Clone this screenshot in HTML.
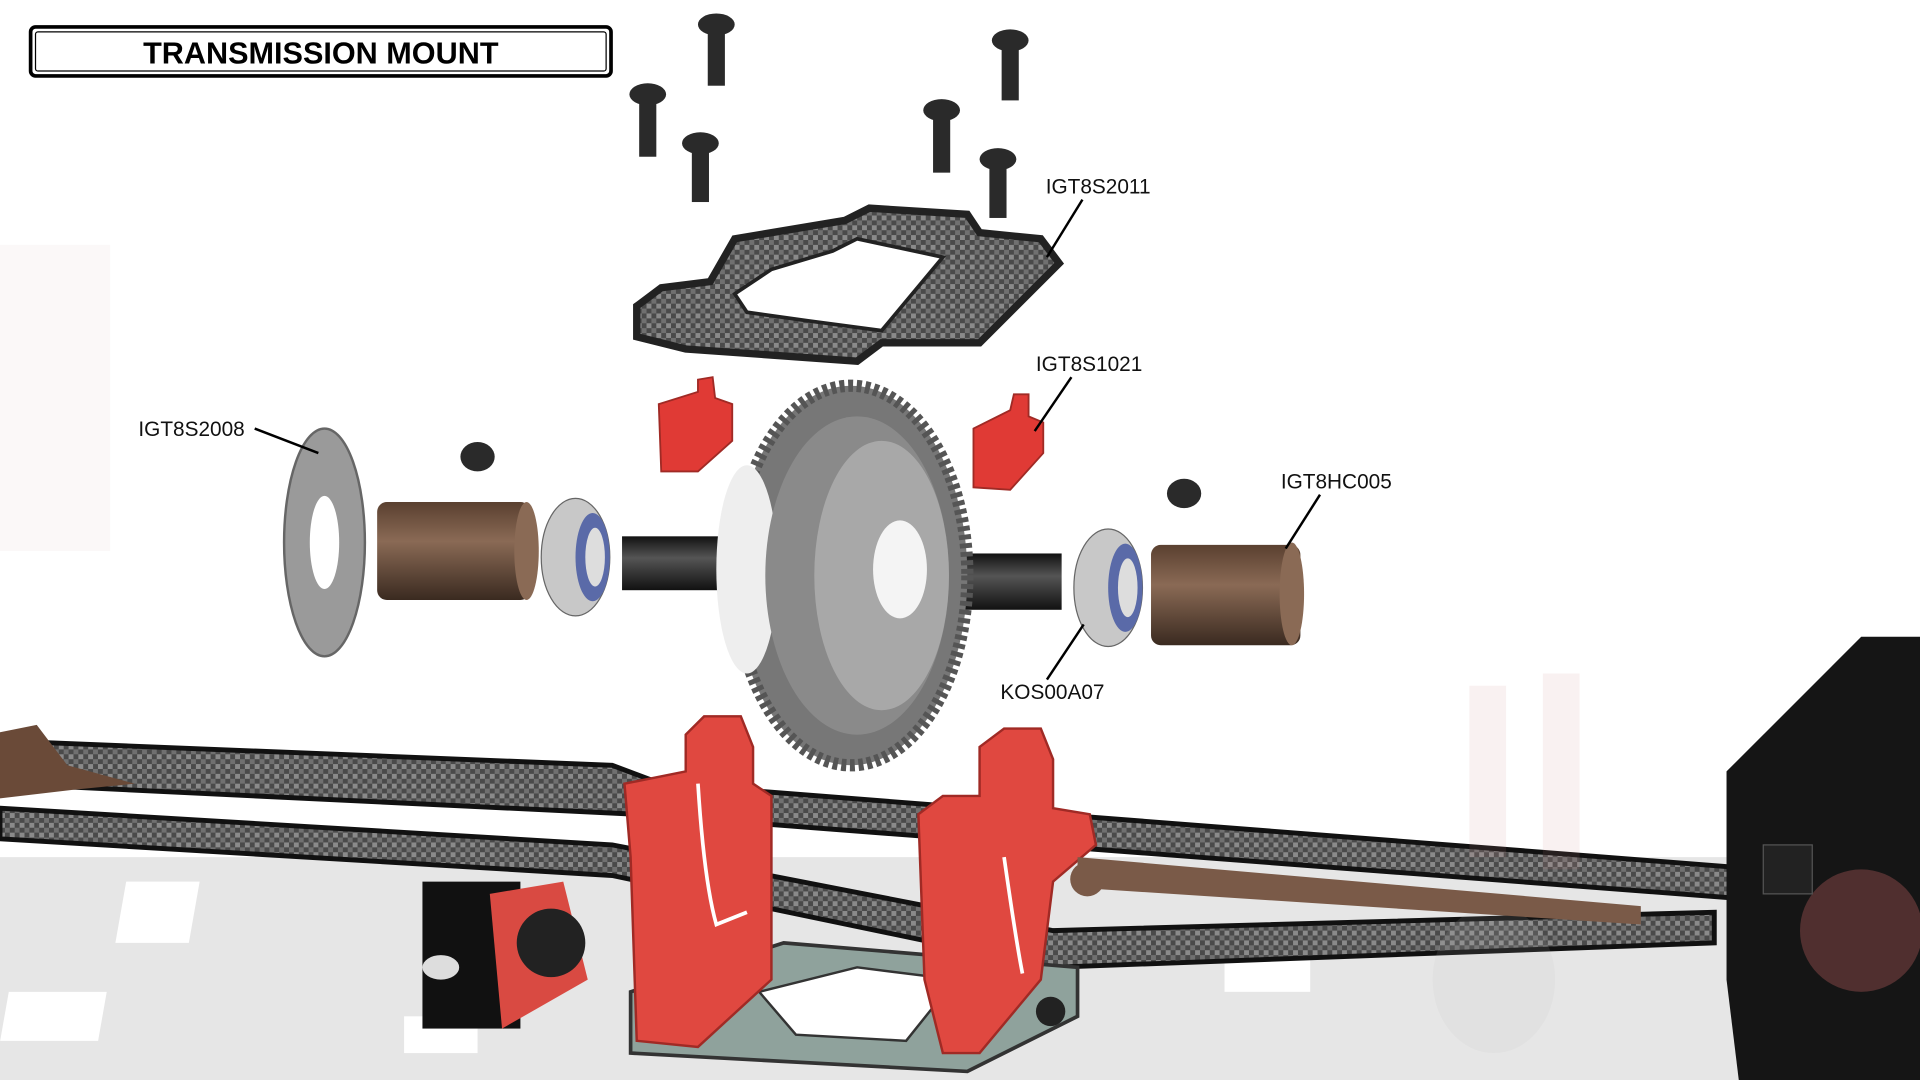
<!DOCTYPE html>
<html><head><meta charset="utf-8"><style>
html,body{margin:0;padding:0;background:#fff;width:1920px;height:1080px;overflow:hidden}
svg{display:block}
text{font-family:"Liberation Sans",sans-serif}
</style></head><body>
<svg width="1920" height="1080" viewBox="0 0 1568 882" xmlns="http://www.w3.org/2000/svg">
<defs>
<pattern id="cf" width="8" height="8" patternUnits="userSpaceOnUse"><rect width="8" height="8" fill="#4a4a4a"/><rect width="4" height="4" fill="#8a8a8a"/><rect x="4" y="4" width="4" height="4" fill="#707070"/></pattern>
<linearGradient id="brz" x1="0" y1="0" x2="0" y2="1"><stop offset="0" stop-color="#5a4030"/><stop offset=".4" stop-color="#8a6a55"/><stop offset="1" stop-color="#3a2a20"/></linearGradient>
<linearGradient id="shaft" x1="0" y1="0" x2="0" y2="1"><stop offset="0" stop-color="#111"/><stop offset=".4" stop-color="#555"/><stop offset="1" stop-color="#111"/></linearGradient>
</defs>
<polygon points="0,700 1568,700 1568,882 0,882" fill="#e6e6e6"/>
<g fill="#fff">
<rect x="40" y="740" width="70" height="35" transform="skewX(-10)"/>
<rect x="230" y="720" width="60" height="50" transform="skewX(-10)"/>
<rect x="150" y="810" width="80" height="40" transform="skewX(-10)"/>
<rect x="1000" y="770" width="70" height="40"/>
<rect x="330" y="830" width="60" height="30"/>
</g>
<polygon points="0,605 500,625 540,640 1568,720 1568,745 520,665 0,640" fill="url(#cf)" stroke="#111" stroke-width="4"/>
<polygon points="0,660 500,690 860,760 1400,745 1400,770 860,790 500,715 0,685" fill="url(#cf)" stroke="#111" stroke-width="4"/>
<polygon points="0,598 30,592 55,625 110,640 60,645 0,652" fill="#6a4a38"/>
<polygon points="1410,630 1470,570 1520,520 1568,520 1568,882 1420,882 1410,800" fill="#151515"/>
<circle cx="1520" cy="760" r="50" fill="#6a3a3a" opacity=".7"/>
<rect x="1440" y="690" width="40" height="40" fill="#222" stroke="#555"/>
<g opacity=".12" fill="#c88"><rect x="1200" y="560" width="30" height="140"/><rect x="1260" y="550" width="30" height="160"/><ellipse cx="1220" cy="800" rx="50" ry="60" fill="#bbb"/></g>
<g opacity=".08" fill="#caa"><rect x="0" y="200" width="90" height="250"/></g>
<rect x="345" y="720" width="80" height="120" fill="#111"/>
<polygon points="400,730 460,720 480,800 410,840" fill="#d94a42"/>
<circle cx="450" cy="770" r="28" fill="#222"/>
<ellipse cx="360" cy="790" rx="15" ry="10" fill="#ddd"/>
<polygon points="515,810 640,770 880,790 880,830 790,875 515,860" fill="#8fa29c" stroke="#333" stroke-width="3"/>
<polygon points="620,810 700,790 780,800 740,850 650,845" fill="#fff" stroke="#333" stroke-width="2"/>
<g fill="#e04840" stroke="#a02a25" stroke-width="2">
<polygon points="510,640 560,630 560,600 575,585 605,585 615,610 615,640 630,650 630,800 570,855 520,850 515,700"/>
<polygon points="750,665 770,650 800,650 800,610 820,595 850,595 860,620 860,660 890,665 895,690 860,720 850,800 800,860 770,860 755,800"/>
</g>
<path d="M570,640 Q575,720 585,755 L610,745" fill="none" stroke="#fff" stroke-width="3"/>
<path d="M820,700 Q830,770 835,795" fill="none" stroke="#fff" stroke-width="3"/>
<circle cx="858" cy="826" r="12" fill="#222"/>
<polygon points="880,700 1340,740 1340,755 880,725" fill="#7a5a48"/>
<circle cx="888" cy="718" r="14" fill="#7a5a48"/>
<polygon points="520,250 540,235 580,230 600,195 690,180 710,170 790,175 800,190 850,195 865,215 800,280 720,280 700,295 560,285 520,275" fill="url(#cf)" stroke="#222" stroke-width="6"/>
<polygon points="600,240 630,220 680,205 700,195 770,210 720,270 660,262 610,255" fill="#fff" stroke="#222" stroke-width="3"/>
<g fill="#2a2a2a">
<rect x="578" y="25" width="14" height="45"/><ellipse cx="585" cy="20" rx="15" ry="9"/>
<rect x="818" y="37" width="14" height="45"/><ellipse cx="825" cy="33" rx="15" ry="9"/>
<rect x="522" y="80" width="14" height="48"/><ellipse cx="529" cy="77" rx="15" ry="9"/>
<rect x="762" y="93" width="14" height="48"/><ellipse cx="769" cy="90" rx="15" ry="9"/>
<rect x="565" y="120" width="14" height="45"/><ellipse cx="572" cy="117" rx="15" ry="9"/>
<rect x="808" y="133" width="14" height="45"/><ellipse cx="815" cy="130" rx="15" ry="9"/>
<ellipse cx="390" cy="373" rx="14" ry="12"/><ellipse cx="967" cy="403" rx="14" ry="12"/>
</g>
<g fill="#e03a35" stroke="#a02a25" stroke-width="1.5">
<polygon points="538,330 570,320 570,310 582,308 584,325 598,330 598,360 570,385 540,385"/>
<polygon points="795,350 825,335 828,322 840,322 840,340 852,345 852,370 825,400 795,398"/>
</g>
<ellipse cx="265" cy="443" rx="33" ry="93" fill="#9a9a9a" stroke="#666" stroke-width="2"/>
<ellipse cx="265" cy="443" rx="12" ry="38" fill="#fff"/>
<rect x="308" y="410" width="125" height="80" rx="8" fill="url(#brz)"/>
<ellipse cx="430" cy="450" rx="10" ry="40" fill="#8a6a55"/>
<ellipse cx="470" cy="455" rx="28" ry="48" fill="#c8c8c8" stroke="#666"/>
<ellipse cx="484" cy="455" rx="14" ry="36" fill="#5a6aa8"/><ellipse cx="486" cy="455" rx="8" ry="24" fill="#ddd"/>
<ellipse cx="905" cy="480" rx="28" ry="48" fill="#c8c8c8" stroke="#666"/>
<ellipse cx="919" cy="480" rx="14" ry="36" fill="#5a6aa8"/><ellipse cx="921" cy="480" rx="8" ry="24" fill="#ddd"/>
<rect x="508" y="438" width="80" height="44" fill="url(#shaft)"/>
<rect x="755" y="452" width="112" height="46" fill="url(#shaft)"/>
<ellipse cx="695" cy="470" rx="95" ry="155" fill="#777" stroke="#555" stroke-width="10" stroke-dasharray="4 3"/>
<ellipse cx="610" cy="465" rx="25" ry="85" fill="#eee"/>
<ellipse cx="700" cy="470" rx="75" ry="130" fill="#8a8a8a"/>
<ellipse cx="720" cy="470" rx="55" ry="110" fill="#a8a8a8"/>
<ellipse cx="735" cy="465" rx="22" ry="40" fill="#f4f4f4"/>
<rect x="940" y="445" width="122" height="82" rx="8" fill="url(#brz)"/>
<ellipse cx="1055" cy="485" rx="10" ry="42" fill="#8a6a55"/>
<g stroke="#000" stroke-width="2" fill="none">
<line x1="208" y1="350" x2="260" y2="370"/>
<line x1="884" y1="163" x2="855" y2="210"/>
<line x1="875" y1="308" x2="845" y2="352"/>
<line x1="1078" y1="404" x2="1050" y2="448"/>
<line x1="855" y1="555" x2="885" y2="510"/>
</g>
<g font-size="17" fill="#111">
<text x="113" y="356">IGT8S2008</text>
<text x="854" y="158">IGT8S2011</text>
<text x="846" y="303">IGT8S1021</text>
<text x="1046" y="399">IGT8HC005</text>
<text x="817" y="571">KOS00A07</text>
</g>
<rect x="25" y="22" width="474" height="40" rx="4" fill="#fff" stroke="#000" stroke-width="3"/>
<rect x="29" y="26" width="466" height="32" rx="2" fill="none" stroke="#000" stroke-width="1"/>
<text x="262" y="52" text-anchor="middle" font-size="25" font-weight="bold" fill="#000">TRANSMISSION MOUNT</text>
</svg>
</body></html>
